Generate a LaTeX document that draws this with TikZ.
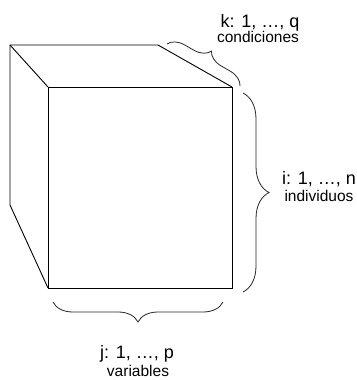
\documentclass[tikz,border=0pt]{standalone}
\usepackage{fontspec}
\setmainfont{Liberation Sans}
\usetikzlibrary{decorations.pathreplacing}

\begin{document}
\begin{tikzpicture}[
    x=1pt, y=-1pt,
    edge/.style={line width=0.9pt, line join=miter},
    curly/.style={decorate, decoration={brace, amplitude=#1}, line width=0.8pt, black!85},
    dimtop/.style={font=\fontsize{18}{18}\selectfont, anchor=base, inner sep=0pt},
    dimsub/.style={font=\fontsize{15.5}{15.5}\selectfont, anchor=base, inner sep=0pt},
]
    \useasboundingbox (0,0) rectangle (356,380);

    % Cube corners
    \coordinate (b1) at (10,45);
    \coordinate (b2) at (158,45);
    \coordinate (b3) at (10,205);
    \coordinate (f1) at (48,87);
    \coordinate (f2) at (232,87);
    \coordinate (f3) at (232,288);
    \coordinate (f4) at (48,288);

    \draw[edge] (f1) rectangle (f3);
    \draw[edge] (b3) -- (b1) -- (b2) -- (f2);
    \draw[edge] (b1) -- (f1);
    \draw[edge] (b3) -- (f4);

    % Braces
    \coordinate (k1) at (167,44);
    \coordinate (k2) at (240,86);
    \coordinate (i1) at (243,93);
    \coordinate (i2) at (243,292);
    \coordinate (j1) at (223,302);
    \coordinate (j2) at (53,302);
    \draw[curly=16pt] (k1) -- (k2);
    \draw[curly=26pt] (i1) -- (i2);
    \draw[curly=20pt] (j1) -- (j2);

    % Labels
    \node[dimtop] (klabel) at (260,27.5) {k: 1, …, q};
    \node[dimsub] (kname) at (258,42.7) {condiciones};
    \node[dimtop] (ilabel) at (319,184) {i: 1, …, n};
    \node[dimsub] (iname) at (319,201.7) {individuos};
    \node[dimtop] (jlabel) at (137,358.3) {j: 1, …, p};
    \node[dimsub] (jname) at (138,376) {variables};
\end{tikzpicture}
\end{document}
